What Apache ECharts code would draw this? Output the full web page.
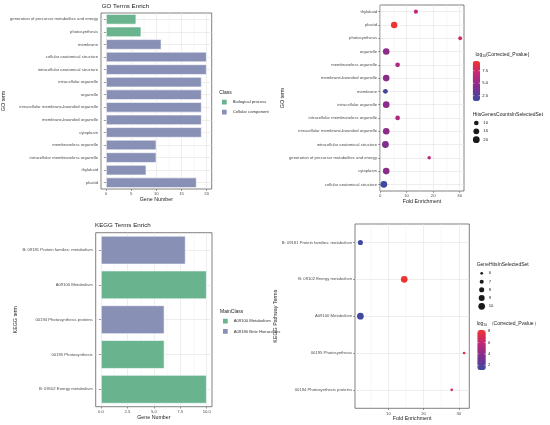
<!DOCTYPE html>
<html><head><meta charset="utf-8">
<script src="https://cdn.jsdelivr.net/npm/echarts@6/dist/echarts.min.js"></script>
<style>html,body{margin:0;padding:0;background:#fff}#c{width:550px;height:425px}</style>
</head><body><div id="c"></div>
<script>
// ---------- GO bar chart ----------
const goBarTerms = ['generation of precursor metabolites and energy','photosynthesis','membrane','cellular anatomical structure','intracellular anatomical structure','intracellular organelle','organelle','intracellular membrane-bounded organelle','membrane-bounded organelle','cytoplasm','membraneless organelle','intracellular membraneless organelle','thylakoid','plastid'];
const goBarCounts = [6,7,11,20,20,19,19,19,19,19,10,10,8,18];
const goBarClass = ['Biological process','Biological process','Cellular component','Cellular component','Cellular component','Cellular component','Cellular component','Cellular component','Cellular component','Cellular component','Cellular component','Cellular component','Cellular component','Cellular component'];
const goClasses = ['Biological process','Cellular component'];
const goBarTicks = [0,5,10,15,20];
const goBarMinor = [2.5,7.5,12.5,17.5];

// ---------- GO dot chart ----------
const goDotTerms = ['thylakoid','plastid','photosynthesis','organelle','membraneless organelle','membrane-bounded organelle','membrane','intracellular organelle','intracellular membraneless organelle','intracellular membrane-bounded organelle','intracellular anatomical structure','generation of precursor metabolites and energy','cytoplasm','cellular anatomical structure'];
const goDotFold = [13.5,5.3,30.2,2.3,6.6,2.3,2.0,2.3,6.6,2.3,2.0,18.5,2.3,1.4];
const goDotHits = [8,18,7,19,10,19,11,19,10,19,20,6,19,20];
const goDotLogP = [7.0,9.44,7.6,4.6,6.0,4.6,1.8,4.6,6.0,4.6,4.2,6.6,4.6,1.44];
const goDotTicks = [0,10,20,30];
const goDotMinor = [5,15,25];
const goSizeBreaks = [10,15,20];
const goColorBreaks = [2.5,5.0,7.5];

// ---------- KEGG bar chart ----------
const keggBarTerms = ['B: 09181 Protein families: metabolism','A09100 Metabolism','00194 Photosynthesis proteins','00195 Photosynthesis','B: 09102 Energy metabolism'];
const keggBarCounts = [8,10,6,6,10];
const keggBarClass = ['A09180 Brite Hierarchies','A09100 Metabolism','A09180 Brite Hierarchies','A09100 Metabolism','A09100 Metabolism'];
const keggClasses = ['A09100 Metabolism','A09180 Brite Hierarchies'];
const keggBarTicks = [0,2.5,5,7.5,10];
const keggBarMinor = [1.25,3.75,6.25,8.75];

// ---------- KEGG dot chart ----------
const keggDotTerms = ['B: 09181 Protein families: metabolism','B: 09102 Energy metabolism','A09100 Metabolism','00195 Photosynthesis','00194 Photosynthesis proteins'];
const keggDotFold = [2.05,14.5,2.05,31.5,28.0];
const keggDotHits = [8,10,10,6,6];
const keggDotLogP = [1.2,8.2,1.3,7.3,7.0];
const keggDotTicks = [10,20,30];
const keggDotMinor = [5,15,25];
const keggSizeBreaks = [6,7,8,9,10];
const keggColorBreaks = [2,4,6,8];

// ---------- styling ----------
const FONT = 'Liberation Sans';
const TICK_FS = 4.2, TITLE_FS = 5.3;
const TXT = '#4d4d4d', DARK = '#222', BORDER = '#4a4a4a', GL = '#e2e2e2', GLm = '#ebebeb';
const classColors = ['#69b48f', '#8990b6'];
const heat = ['#3d4a9e', '#7e2f8e', '#c1267a', '#ee3431'];
const goRange = [1.44, 9.44], keggRange = [1.18, 8.2];
const goSize = c => Math.sqrt(Math.max(1, -2.32 + 2.428 * c));
const keggSize = c => Math.sqrt(Math.max(1, -49.1 + 9.4 * c));

const grids = [
  {left:101, top:13, width:110.7, height:176},
  {left:380, top:5, width:84, height:186},
  {left:95.7, top:232.7, width:116.3, height:174},
  {left:355, top:224, width:114.3, height:184.3}
].map(g => Object.assign({show:true, borderColor:BORDER, borderWidth:0.7, backgroundColor:'transparent'}, g));

function xPair(g, min, max, majors, minors, fmt, name, gap) {
  return [
    {type:'value', gridIndex:g, min:min, max:max,
     axisLine:{show:false},
     axisTick:{show:true, length:1.8, customValues:majors, lineStyle:{color:BORDER, width:0.6}},
     axisLabel:{customValues:majors, formatter:fmt, fontSize:TICK_FS, color:TXT, margin:3.2, fontFamily:FONT},
     splitLine:{show:true, customValues:majors, lineStyle:{color:GL, width:0.6}},
     name:name, nameLocation:'middle', nameGap:gap, nameTextStyle:{fontSize:TITLE_FS, color:DARK, fontFamily:FONT}},
    {type:'value', gridIndex:g, min:min, max:max, position:'top',
     axisLine:{show:false}, axisLabel:{show:false},
     axisTick:{show:false, customValues:minors},
     splitLine:{show:true, customValues:minors, lineStyle:{color:GLm, width:0.4}}}
  ];
}
function yCat(g, terms, name, gap) {
  return {type:'category', gridIndex:g, data:terms, inverse:true,
    axisLine:{show:false},
    axisTick:{show:true, alignWithLabel:true, length:1.8, lineStyle:{color:BORDER, width:0.6}},
    axisLabel:{interval:0, fontSize:TICK_FS, color:TXT, margin:3, fontFamily:FONT},
    splitLine:{show:true, alignWithLabel:true, lineStyle:{color:GL, width:0.6}},
    name:name, nameLocation:'middle', nameGap:gap, nameTextStyle:{fontSize:TITLE_FS, color:DARK, fontFamily:FONT}};
}
const intFmt = v => String(Math.round(v));
const oneDec = v => v.toFixed(1);

const xAxis = [].concat(
  xPair(0, -1, 21, goBarTicks, goBarMinor, intFmt, 'Gene Number', 8.3),
  xPair(1, -0.04, 31.64, goDotTicks, goDotMinor, intFmt, 'Fold Enrichment', 6.5),
  xPair(2, -0.5, 10.5, keggBarTicks, keggBarMinor, oneDec, 'Gene Number', 8.6),
  xPair(3, 0.52, 32.98, keggDotTicks, keggDotMinor, intFmt, 'Fold Enrichment', 7.4)
);
const yAxis = [
  yCat(0, goBarTerms, 'GO term', 91.4),
  yCat(1, goDotTerms, 'GO term', 91.4),
  yCat(2, keggBarTerms, 'KEGG term', 75),
  yCat(3, keggDotTerms, 'KEGG Pathway Terms', 62.4)
];

const series = [];
goClasses.forEach((cls, i) => series.push({
  type:'bar', name:cls, xAxisIndex:0, yAxisIndex:0, stack:'go', barWidth:'82%',
  itemStyle:{color:classColors[i], borderColor:'#fff', borderWidth:0.6},
  data: goBarCounts.map((v, j) => goBarClass[j] === cls ? v : null)
}));
keggClasses.forEach((cls, i) => series.push({
  type:'bar', name:cls, xAxisIndex:4, yAxisIndex:2, stack:'kegg', barWidth:'82%',
  itemStyle:{color:classColors[i], borderColor:'#fff', borderWidth:0.6},
  data: keggBarCounts.map((v, j) => keggBarClass[j] === cls ? v : null)
}));
series.push({
  type:'scatter', name:'goDot', xAxisIndex:2, yAxisIndex:1,
  data: goDotTerms.map((t, i) => [goDotFold[i], t, goDotHits[i], goDotLogP[i]]),
  symbolSize: d => goSize(d[2]), itemStyle:{opacity:1}
});
series.push({
  type:'scatter', name:'keggDot', xAxisIndex:6, yAxisIndex:3,
  data: keggDotTerms.map((t, i) => [keggDotFold[i], t, keggDotHits[i], keggDotLogP[i]]),
  symbolSize: d => keggSize(d[2]), itemStyle:{opacity:1}
});

const visualMap = [
  {type:'continuous', seriesIndex:4, dimension:3, min:goRange[0], max:goRange[1], inRange:{color:heat},
   left:472.7, top:61, itemWidth:7.3, itemHeight:40, padding:0, calculable:false, hoverLink:false, text:null},
  {type:'continuous', seriesIndex:5, dimension:3, min:keggRange[0], max:keggRange[1], inRange:{color:heat},
   left:477.3, top:330, itemWidth:8.5, itemHeight:40, padding:0, calculable:false, hoverLink:false, text:null}
];

const legend = [
  {data:goClasses, left:220, top:97.7, orient:'vertical', icon:'rect', itemWidth:6.7, itemHeight:6.7, itemGap:1.3, padding:0, selectedMode:false,
   textStyle:{fontSize:TICK_FS, color:'#333', fontFamily:FONT}},
  {data:keggClasses, left:221, top:316.7, orient:'vertical', icon:'rect', itemWidth:6.7, itemHeight:6.7, itemGap:1.6, padding:0, selectedMode:false,
   textStyle:{fontSize:TICK_FS, color:'#333', fontFamily:FONT}}
];

// legend titles / colorbar labels / size keys
const graphic = [];
function txt(x, y, s, fs, extra) {
  graphic.push(Object.assign({type:'text', x:x, y:y, style:{text:s, fontSize:fs, fill:DARK, fontFamily:FONT, textVerticalAlign:'middle'}}, extra || {}));
}
txt(219.3, 92.3, 'Class', 5);
txt(220, 311.3, 'MainClass', 5);
function logTitle(x, y, full) {
  graphic.push({type:'text', x:x, y:y, style:{
    text: full ? '{a|log}{s|10}{a| （Corrected_Pvalue）}' : '{a|log}{s|10}{a|(Corrected_Pvalue)}',
    fontFamily:FONT, textVerticalAlign:'middle',
    rich:{a:{fontSize:5, fill:DARK, fontFamily:FONT}, s:{fontSize:3.4, fill:DARK, fontFamily:FONT, padding:[3,0,0,0]}}}});
}
logTitle(475.5, 54.3, false);
logTitle(476.7, 324, true);
function colorbarLabels(vm, breaks, range, fmt) {
  breaks.forEach(v => {
    const y = vm.top + (range[1] - v) / (range[1] - range[0]) * vm.itemHeight;
    txt(vm.left + vm.itemWidth + 2.3, y, fmt(v), 4.2, {});
    graphic.push({type:'line', shape:{x1:vm.left, y1:y, x2:vm.left + 1.6, y2:y}, style:{stroke:'#fff', lineWidth:0.5}, z:100});
    graphic.push({type:'line', shape:{x1:vm.left + vm.itemWidth - 1.6, y1:y, x2:vm.left + vm.itemWidth, y2:y}, style:{stroke:'#fff', lineWidth:0.5}, z:100});
  });
}
colorbarLabels(visualMap[0], goColorBreaks, goRange, v => v.toFixed(1));
colorbarLabels(visualMap[1], keggColorBreaks, keggRange, v => String(v));
txt(472.7, 114.3, 'HitsGenesCountsInSelectedSet', 5);
txt(476.7, 264.3, 'GeneHitsInSelectedSet', 5);
function sizeKeys(x, ys, breaks, fn) {
  breaks.forEach((b, i) => {
    graphic.push({type:'circle', shape:{cx:x, cy:ys[i], r:fn(b) / 2}, style:{fill:'#1a1a1a'}});
    txt(x + 7, ys[i], String(b), 4.2);
  });
}
sizeKeys(476.3, [123, 131.3, 139.7], goSizeBreaks, goSize);
sizeKeys(481.7, [273.3, 281.7, 289.7, 298, 306.3], keggSizeBreaks, keggSize);

const option = {
  animation:false,
  backgroundColor:'#fff',
  textStyle:{fontFamily:FONT},
  title:[
    {text:'GO Terms Enrich', left:101.7, top:3.3, padding:0, textStyle:{fontSize:6.2, fontWeight:'normal', color:DARK, fontFamily:FONT}},
    {text:'KEGG Terms Enrich', left:95, top:222.3, padding:0, textStyle:{fontSize:6.2, fontWeight:'normal', color:DARK, fontFamily:FONT}}
  ],
  grid:grids, xAxis:xAxis, yAxis:yAxis, series:series, visualMap:visualMap, legend:legend, graphic:graphic
};
const chart = echarts.init(document.getElementById('c'));
chart.setOption(option);
</script></body></html>
